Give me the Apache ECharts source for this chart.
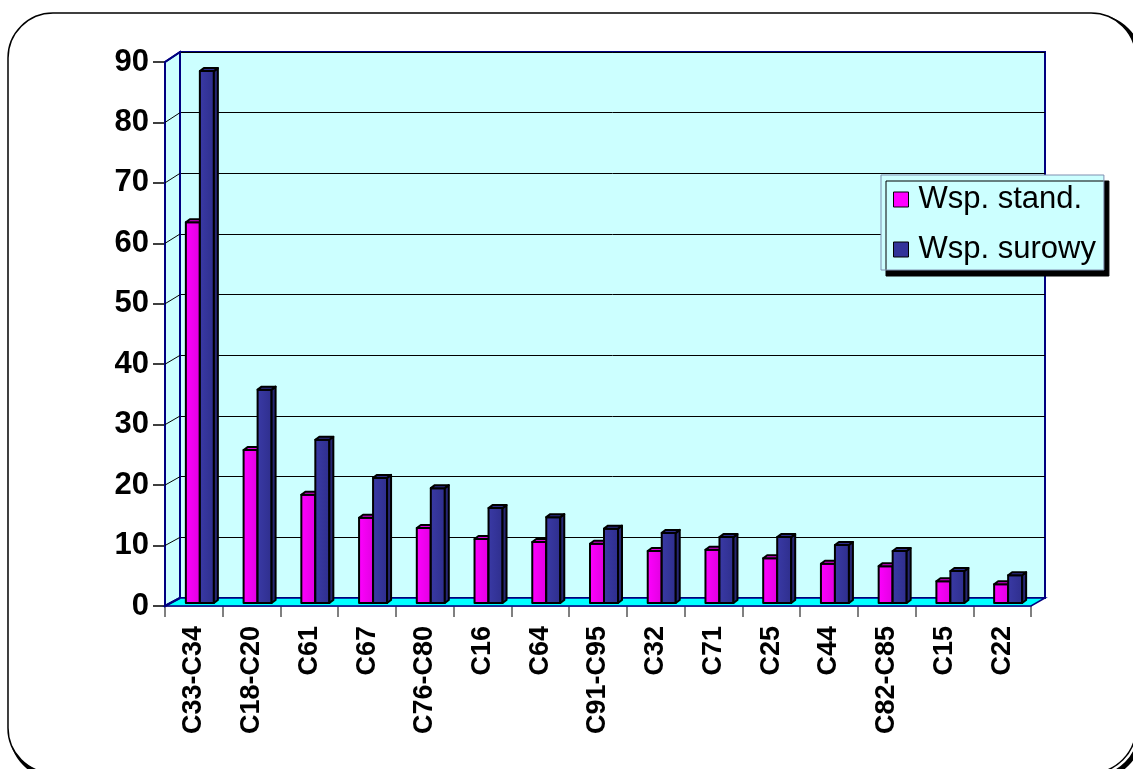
<!DOCTYPE html>
<html>
<head>
<meta charset="utf-8">
<script src="https://cdn.jsdelivr.net/npm/echarts@6/dist/echarts.min.js"></script>
<style>
  html, body { margin: 0; padding: 0; background: #fff; }
  #main { width: 1133px; height: 769px; }
</style>
</head>
<body>
<div id="main"></div>
<script>
// categories and values
var categories = ['C33-C34', 'C18-C20', 'C61', 'C67', 'C76-C80', 'C16', 'C64', 'C91-C95', 'C32', 'C71', 'C25', 'C44', 'C82-C85', 'C15', 'C22'];
var wspStand = [63, 25.3, 17.9, 14.1, 12.4, 10.6, 10.1, 9.8, 8.6, 8.8, 7.4, 6.5, 6.1, 3.6, 3.1];
var wspSurowy = [88, 35.3, 27, 20.7, 19, 15.7, 14.2, 12.3, 11.6, 10.9, 10.9, 9.6, 8.6, 5.3, 4.6];
var yTicks = [0, 10, 20, 30, 40, 50, 60, 70, 80, 90];

var FONT = "'Liberation Sans', Arial, sans-serif";
var chartDom = document.getElementById('main');
var myChart = echarts.init(chartDom);

// 3d-ish column, drawn from the axis coords
function column(offset, front, side, top) {
    return function (params, api) {
        var base = api.coord([api.value(0), 0]);
        var p = api.coord([api.value(0), api.value(1)]);
        var w = 14, dx = 4, dy = 3;
        var x0 = p[0] + offset, yt = p[1], yb = base[1];
        var st = { stroke: '#000', lineWidth: 2, lineJoin: 'round' };
        return {
            type: 'group',
            children: [
                { type: 'rect', shape: { x: x0, y: yt, width: w, height: yb - yt },
                  style: Object.assign({ fill: front }, st) },
                { type: 'polygon', shape: { points: [[x0 + w, yt], [x0 + w + dx, yt - dy], [x0 + w + dx, yb - dy], [x0 + w, yb]] },
                  style: Object.assign({ fill: side }, st) },
                { type: 'polygon', shape: { points: [[x0, yt], [x0 + dx, yt - dy], [x0 + w + dx, yt - dy], [x0 + w, yt]] },
                  style: Object.assign({ fill: top }, st) }
            ]
        };
    };
}

var pinkFront = new echarts.graphic.LinearGradient(0, 0, 1, 0, [
    { offset: 0, color: '#ff00ff' }, { offset: 1, color: '#e000e0' }]);
var blueFront = new echarts.graphic.LinearGradient(0, 0, 1, 0, [
    { offset: 0, color: '#3a3aa6' }, { offset: 1, color: '#2e2e8c' }]);

var option = {
    animation: false,
    backgroundColor: '#fff',
    grid: [
        // back wall
        { left: 180, right: 88, top: 52, bottom: 171, show: true, backgroundColor: '#ccffff',
          borderColor: '#000080', borderWidth: 2 },
        // bars plane
        { left: 172, right: 95, top: 59, bottom: 166 },
        // front axes
        { left: 165, right: 102, top: 62, bottom: 163 }
    ],
    xAxis: [
        { gridIndex: 0, type: 'category', data: categories, show: false },
        { gridIndex: 1, type: 'category', data: categories, show: false },
        { gridIndex: 2, type: 'category', data: categories,
          axisLine: { lineStyle: { color: '#8080a0', width: 1.5 } },
          axisTick: { show: true, length: 11, lineStyle: { color: '#808080', width: 2 } },
          axisLabel: { rotate: 90, margin: 20, color: '#000', fontFamily: FONT, fontWeight: 'bold', fontSize: 27 } }
    ],
    yAxis: [
        { gridIndex: 0, type: 'value', min: 0, max: 90, interval: 10,
          axisLine: { show: false }, axisTick: { show: false }, axisLabel: { show: false },
          splitLine: { lineStyle: { color: '#000', width: 1 } } },
        { gridIndex: 1, type: 'value', min: 0, max: 90, interval: 10, show: false, splitLine: { show: false } },
        { gridIndex: 2, type: 'value', min: yTicks[0], max: yTicks[yTicks.length - 1], interval: 10,
          axisLine: { show: true, lineStyle: { color: '#000040', width: 2 } },
          axisTick: { show: true, length: 12, lineStyle: { color: '#000', width: 1.5 } },
          axisLabel: { margin: 16, color: '#000', fontFamily: FONT, fontWeight: 'bold', fontSize: 31 },
          splitLine: { show: false } }
    ],
    legend: {
        orient: 'vertical',
        left: 881, top: 175,
        padding: [9, 8, 5, 12],
        itemGap: 19,
        itemWidth: 15, itemHeight: 15,
        backgroundColor: '#ccffff',
        borderColor: '#7f8fb0', borderWidth: 1,
        shadowColor: '#000', shadowOffsetX: 5, shadowOffsetY: 6, shadowBlur: 0,
        textStyle: { color: '#000', fontFamily: FONT, fontSize: 31, padding: [0, 0, 0, 5] },
        data: [
            { name: 'Wsp. stand.', icon: 'rect', itemStyle: { color: '#ff00ff', borderColor: '#000', borderWidth: 1 } },
            { name: 'Wsp. surowy', icon: 'rect', itemStyle: { color: '#333399', borderColor: '#000', borderWidth: 1 } }
        ]
    },
    graphic: [
        // outer rounded frame with dark shadow
        { id: 'frameShadow', type: 'rect', z: -10, shape: { x: 12, y: 17, width: 1128, height: 760, r: 45 },
          style: { fill: 'none', stroke: '#000', lineWidth: 5 } },
        { id: 'frame', type: 'rect', z: -9, shape: { x: 8, y: 13, width: 1128, height: 760, r: 45 },
          style: { fill: '#fff', stroke: '#000', lineWidth: 1.5 } },
        // left wall
        { id: 'leftWall', type: 'polygon', z: 1, shape: { points: [[165, 62], [180, 52], [180, 598], [165, 606]] },
          style: { fill: '#ccffff', stroke: '#000080', lineWidth: 2 } },
        // floor
        { id: 'floor', type: 'polygon', z: 1, shape: { points: [[165, 606], [180, 598], [1045, 598], [1031, 606]] },
          style: { fill: '#00ffff', stroke: '#000080', lineWidth: 1.5 } }
    ],
    series: [
        { name: 'Wsp. stand.', type: 'custom', xAxisIndex: 1, yAxisIndex: 1, z: 5,
          itemStyle: { color: '#ff00ff' },
          renderItem: column(-15, pinkFront, '#c000c0', '#e000e0'),
          data: wspStand.map(function (v, i) { return [i, v]; }) },
        { name: 'Wsp. surowy', type: 'custom', xAxisIndex: 1, yAxisIndex: 1, z: 6,
          itemStyle: { color: '#333399' },
          renderItem: column(-1, blueFront, '#262673', '#2e2e8c'),
          data: wspSurowy.map(function (v, i) { return [i, v]; }) }
    ]
};

myChart.setOption(option);

// connector lines on the left wall, from the front ticks to the back gridlines
var links = yTicks.map(function (v) {
    var yf = myChart.convertToPixel({ yAxisIndex: 2 }, v);
    var yb = myChart.convertToPixel({ yAxisIndex: 0 }, v);
    return { id: 'link' + v, type: 'line', z: 2, shape: { x1: 165, y1: yf, x2: 180, y2: yb },
             style: { stroke: v === 0 || v === 90 ? '#000080' : '#000', lineWidth: v === 0 || v === 90 ? 2 : 1 } };
});
myChart.setOption({ graphic: links });
</script>
</body>
</html>
